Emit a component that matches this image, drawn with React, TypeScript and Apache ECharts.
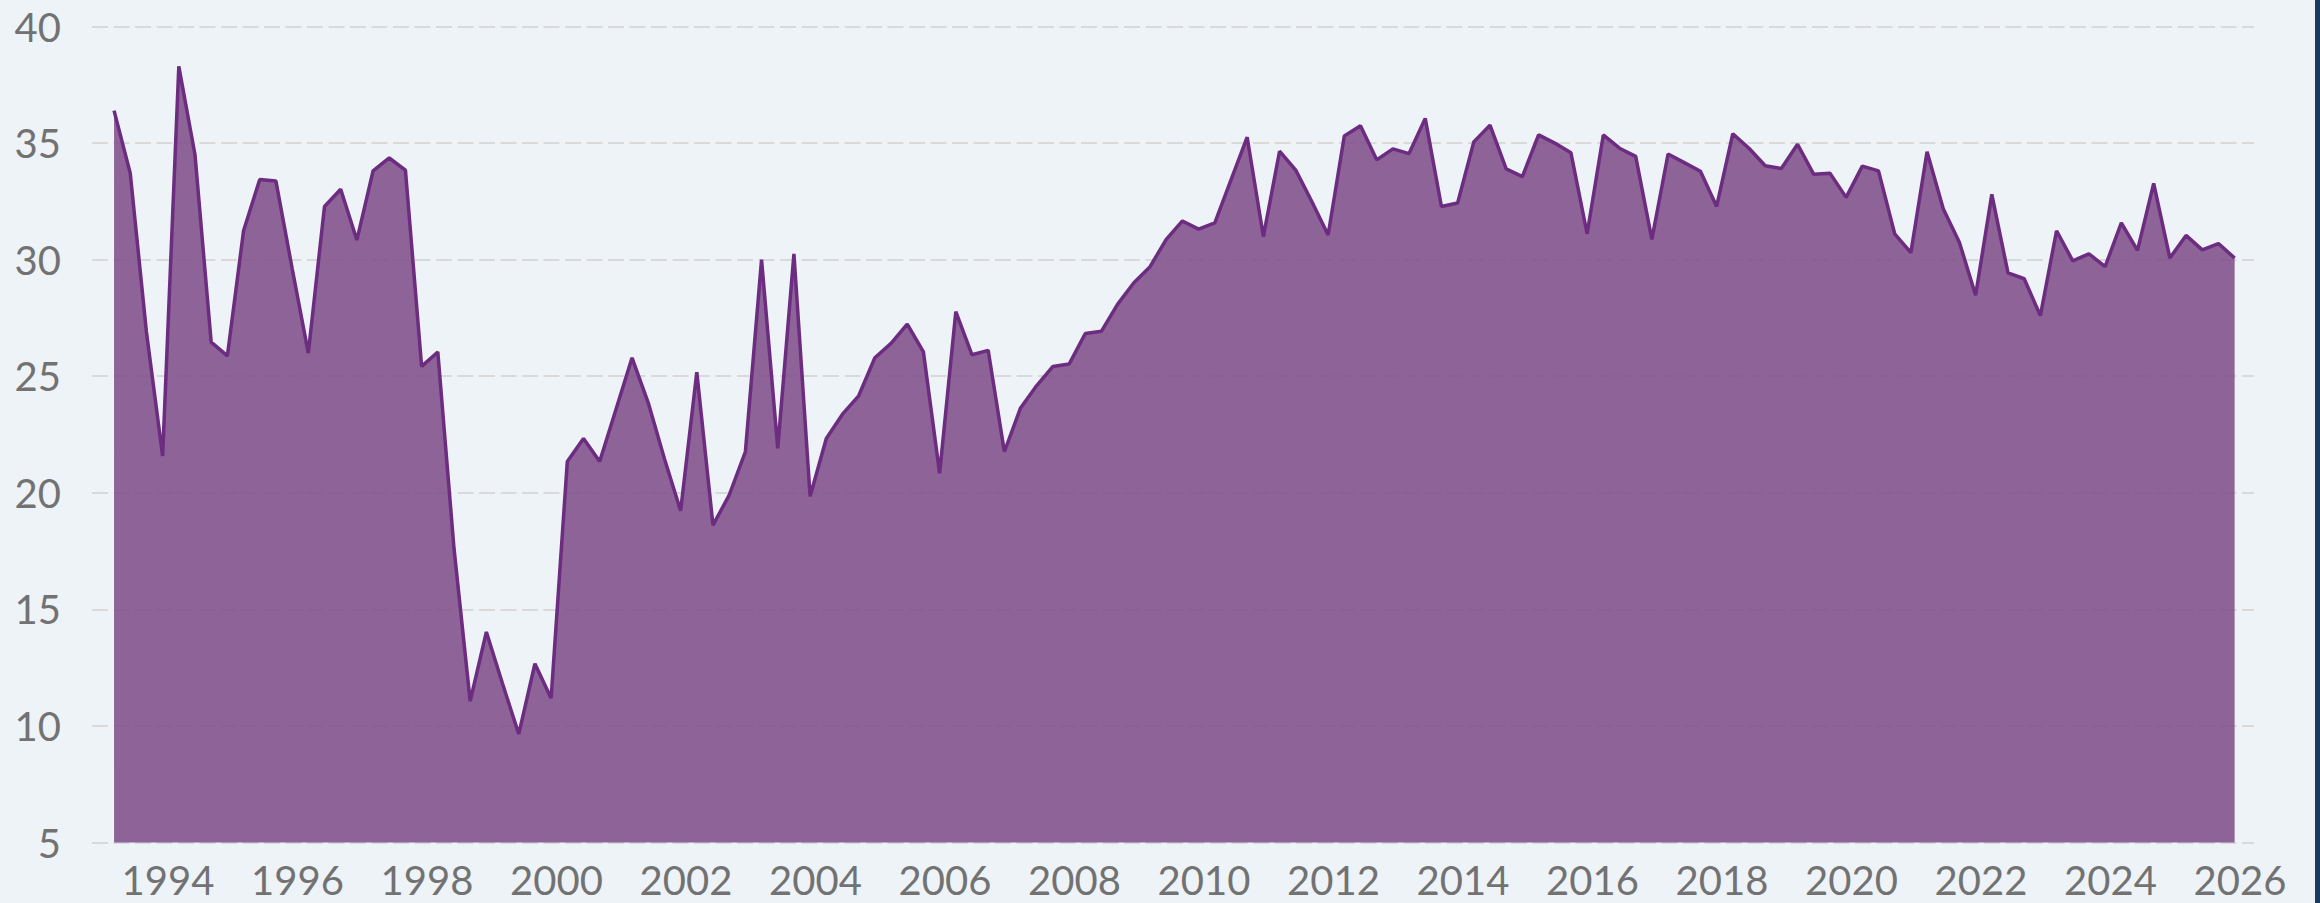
import React, { useEffect, useRef } from 'react';
import * as echarts from 'echarts';

// Quarterly observations, dated the 1st of the quarter's last month
const startYear = 1993;
const quarterMonths = [3, 6, 9, 12];

const values: number[] = [
  36.39, 33.71, 26.9, 21.58,
  38.29, 34.5, 26.46, 25.87,
  31.24, 33.44, 33.37, 29.63,
  25.99, 32.28, 33.02, 30.84,
  33.81, 34.36, 33.84, 25.42,
  26.04, 17.62, 11.06, 14.03,
  11.81, 9.65, 12.67, 11.19,
  21.34, 22.33, 21.34, 23.56,
  25.79, 23.86, 21.46, 19.23,
  25.17, 18.61, 19.9, 21.76,
  30.0, 21.91, 30.25, 19.85,
  22.33, 23.37, 24.16, 25.79,
  26.41, 27.23, 26.04, 20.84,
  27.77, 25.92, 26.11, 21.76,
  23.64, 24.6, 25.42, 25.52,
  26.83, 26.93, 28.09, 29.01,
  29.7, 30.87, 31.66, 31.31,
  31.58, 33.42, 35.25, 30.99,
  34.65, 33.84, 32.48, 31.06,
  35.3, 35.74, 34.28, 34.75,
  34.55, 36.06, 32.28, 32.43,
  35.05, 35.77, 33.89, 33.56,
  35.35, 35.0, 34.58, 31.11,
  35.35, 34.78, 34.43, 30.87,
  34.53, 34.16, 33.79, 32.28,
  35.4, 34.78, 34.03, 33.91,
  34.95, 33.66, 33.71, 32.67,
  34.01, 33.81, 31.11, 30.3,
  34.63, 32.18, 30.74, 28.47,
  32.8, 29.43, 29.18, 27.6,
  31.24, 29.95, 30.25, 29.7,
  31.58, 30.4, 33.27, 30.07,
  31.04, 30.42, 30.69, 30.07,
];

const dates: string[] = values.map(
  (_, i) => `${startYear + Math.floor(i / 4)}-${String(quarterMonths[i % 4]).padStart(2, '0')}-01`
);

const yearFraction = (d: string) => {
  const [y, m] = d.split('-').map(Number);
  return y + (m - 1) / 12;
};

const xRange = [1992.826, 2026.216];
const yTicks = { min: 5, max: 40, step: 5 };
const yearStep = 2;

export default function App() {
  const ref = useRef<HTMLDivElement>(null);

  useEffect(() => {
    document.body.style.margin = '0';
    if (!ref.current) return;
    const chart = echarts.init(ref.current, undefined, { renderer: 'svg' });
    const fontFamily = 'Lato, "Open Sans", sans-serif';
    chart.setOption({
      animation: false,
      backgroundColor: '#eef3f8',
      grid: { left: 92, right: 66, top: 26.5, bottom: 60.5, containLabel: false },
      xAxis: {
        type: 'value',
        min: xRange[0],
        max: xRange[1],
        splitNumber: 17,
        minInterval: yearStep,
        maxInterval: yearStep,
        axisLine: { show: false },
        axisTick: { show: false },
        splitLine: { show: false },
        axisLabel: {
          margin: 17,
          color: '#727272',
          fontFamily,
          fontSize: 40,
          formatter: (v: number) =>
            Math.abs(v - Math.round(v)) < 1e-6 && Math.round(v) % yearStep === 0 ? String(Math.round(v)) : '',
        },
      },
      yAxis: {
        type: 'value',
        min: yTicks.min,
        max: yTicks.max,
        interval: yTicks.step,
        axisLine: { show: false },
        axisTick: { show: false },
        axisLabel: { margin: 31, color: '#727272', fontFamily, fontSize: 40 },
        splitLine: {
          show: true,
          lineStyle: { color: '#d9d9d9', width: 2, type: [16, 5.5] },
        },
      },
      series: [
        {
          type: 'line',
          data: dates.map((d, i) => [yearFraction(d), values[i]]),
          showSymbol: false,
          symbol: 'none',
          lineStyle: { color: '#6c2c80', width: 3.5 },
          itemStyle: { color: '#6c2c80' },
          areaStyle: { color: '#84578f', opacity: 0.92, origin: 'start' },
        },
      ],
    });
    return () => chart.dispose();
  }, []);

  return (
    <div style={{ position: 'relative', width: 2320, height: 903, overflow: 'hidden' }}>
      <div ref={ref} style={{ width: 2320, height: 903 }} />
      <div
        style={{ position: 'absolute', top: 0, right: 0, width: 5, height: 903, background: '#1b3a62' }}
      />
    </div>
  );
}
